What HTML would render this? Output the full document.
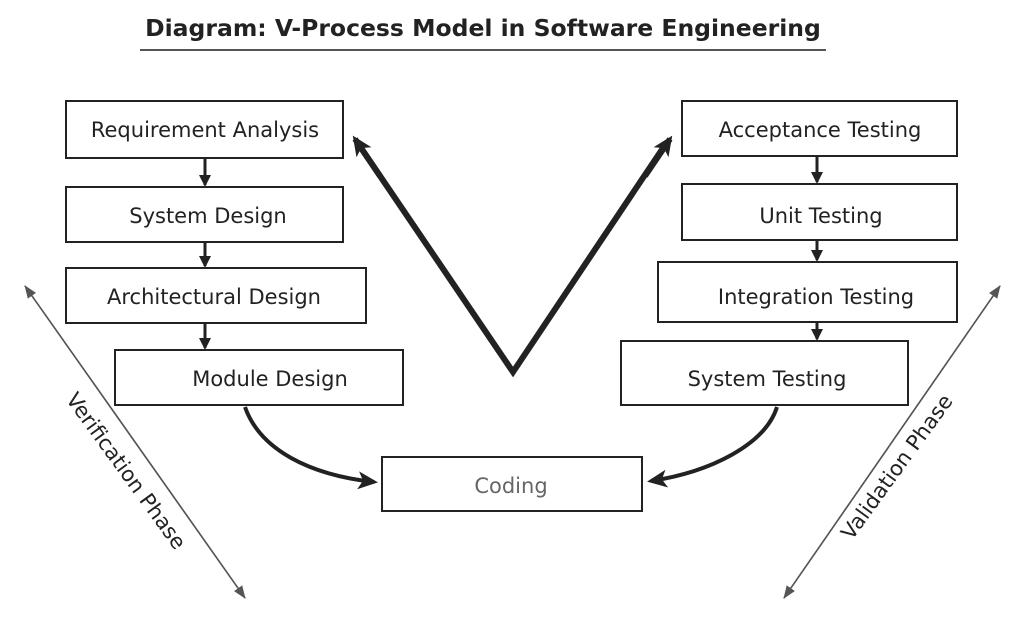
<!DOCTYPE html>
<html><head><meta charset="utf-8"><style>
html,body{margin:0;padding:0;background:#fff;}
svg{display:block;}
text{font-family:"DejaVu Sans","Liberation Sans",sans-serif;}
</style></head><body>
<svg width="1024" height="620" viewBox="0 0 1024 620" xmlns="http://www.w3.org/2000/svg">
<defs>
<marker id="ah" markerWidth="13" markerHeight="12" refX="10" refY="6" orient="auto" markerUnits="userSpaceOnUse"><path d="M0,0 L12,6 L0,12 Z" fill="#222"/></marker>
<marker id="big" markerWidth="22" markerHeight="22" refX="16" refY="11" orient="auto" markerUnits="userSpaceOnUse"><path d="M0,2 L20,11 L0,20 L5,11 Z" fill="#222"/></marker>
<marker id="gh" markerWidth="14" markerHeight="14" refX="12" refY="7" orient="auto" markerUnits="userSpaceOnUse"><path d="M0,2 L13,7 L0,12 Z" fill="#555"/></marker>
</defs>
<rect width="1024" height="620" fill="#fff"/>
<text x="483" y="36" text-anchor="middle" font-size="23.5" font-weight="bold" fill="#222">Diagram: V-Process Model in Software Engineering</text>
<line x1="140" y1="50" x2="826" y2="50" stroke="#555" stroke-width="2"/>
<g fill="#fff" stroke="#222" stroke-width="2">
<rect x="66" y="101" width="277" height="57"/>
<rect x="66" y="187" width="277" height="55"/>
<rect x="66" y="268" width="300" height="55"/>
<rect x="115" y="350" width="288" height="55"/>
<rect x="382" y="457" width="260" height="54"/>
<rect x="682" y="101" width="275" height="55"/>
<rect x="682" y="184" width="275" height="56"/>
<rect x="658" y="262" width="299" height="60"/>
<rect x="621" y="341" width="287" height="64"/>
</g>
<g font-size="21" fill="#222" text-anchor="middle">
<text x="205" y="137">Requirement Analysis</text>
<text x="208" y="223">System Design</text>
<text x="214" y="304">Architectural Design</text>
<text x="270" y="386">Module Design</text>
<text x="511" y="493" fill="#666">Coding</text>
<text x="820" y="137">Acceptance Testing</text>
<text x="821" y="223">Unit Testing</text>
<text x="816" y="304">Integration Testing</text>
<text x="767" y="386">System Testing</text>
</g>
<g stroke="#222" stroke-width="3" marker-end="url(#ah)">
<line x1="205" y1="159" x2="205" y2="185"/>
<line x1="205" y1="243" x2="205" y2="266"/>
<line x1="205" y1="324" x2="205" y2="348"/>
<line x1="817" y1="157" x2="817" y2="182"/>
<line x1="817" y1="241" x2="817" y2="260"/>
<line x1="817" y1="323" x2="817" y2="339"/>
</g>
<polyline points="357,142 513,372 667,142" fill="none" stroke="#222" stroke-width="6" stroke-linejoin="miter"/>
<line x1="380" y1="176" x2="355" y2="139" stroke="#222" stroke-width="6" marker-end="url(#big)"/>
<line x1="645" y1="176" x2="670" y2="139" stroke="#222" stroke-width="6" marker-end="url(#big)"/>
<path d="M245,407 C260,450 310,475 374,482" fill="none" stroke="#222" stroke-width="4" marker-end="url(#big)"/>
<path d="M777,407 C765,445 710,472 651,481" fill="none" stroke="#222" stroke-width="4" marker-end="url(#big)"/>
<line x1="245" y1="598" x2="25" y2="286" stroke="#555" stroke-width="1.5" marker-end="url(#gh)"/>
<line x1="25" y1="286" x2="245" y2="598" stroke="#555" stroke-width="1.5" marker-end="url(#gh)"/>
<line x1="784" y1="598" x2="1000" y2="286" stroke="#555" stroke-width="1.5" marker-end="url(#gh)"/>
<line x1="1000" y1="286" x2="784" y2="598" stroke="#555" stroke-width="1.5" marker-end="url(#gh)"/>
<text x="0" y="0" font-size="21" fill="#222" text-anchor="middle" transform="translate(126,471) rotate(54) translate(0,7)">Verification Phase</text>
<text x="0" y="0" font-size="21" fill="#222" text-anchor="middle" transform="translate(897,467) rotate(-54) translate(0,7)">Validation Phase</text>
</svg>
</body></html>
